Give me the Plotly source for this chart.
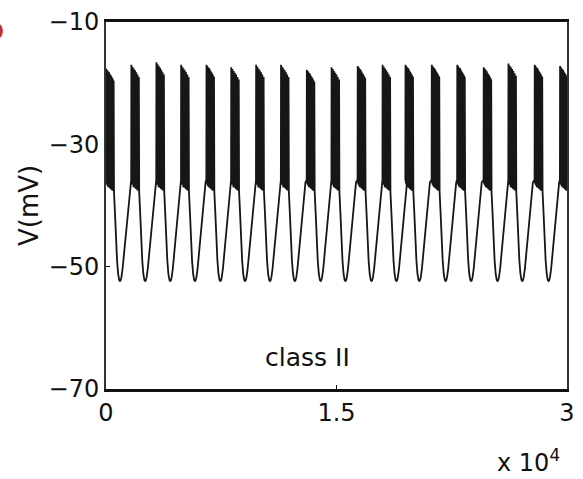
import plotly.graph_objects as go

# ---- data: bursting membrane potential, "class II" cell ----
# onset time of each burst (model time units)
burst_onsets = [0, 1640, 3270, 4880, 6530, 8140, 9760, 11380, 13060,
                14670, 16370, 17990, 19480, 21190, 22850, 24570, 26180,
                27890, 29540]
# highest spike peak of each burst (mV)
burst_tops = [-17.6, -17.0, -16.6, -17.0, -17.0, -17.4, -17.0, -17.0, -17.8,
              -17.4, -17.2, -17.0, -17.0, -17.0, -17.0, -17.4, -16.8, -17.0,
              -17.2]
# spikes inside one burst: times after onset and peak drop from burst top
spike_peak_dt = [10, 50, 90, 130, 170, 210, 250, 290, 330, 372, 414, 456, 498]
spike_peak_drop = [0.0, -0.2, -0.3, -0.5, -0.6, -0.8, -0.9, -1.1, -1.2, -1.4, -1.6, -1.8, -2.0]
spike_trough_dt = [30, 70, 110, 150, 190, 230, 270, 310, 351, 393, 435, 477, 520]
spike_trough_v = [-36.4, -36.6, -36.8, -37.0, -37.0, -37.1, -37.2, -37.3, -37.4,
                  -37.5, -37.6, -37.6, -37.8]
# slow wave between bursts: time after onset and voltage
wave_dt = [580, 650, 720, 790, 860, 930, 1000, 1080, 1160, 1240, 1330, 1420, 1510, 1600]
wave_v = [-41.0, -45.5, -49.0, -51.2, -52.2, -52.4, -51.8, -50.3, -48.2,
          -46.0, -43.2, -40.5, -38.2, -36.2]
burst_start_v = -35.8

t_max = 30000
x_ticks = [0, 15000, 30000]
x_tick_text = ["0", "1.5", "3"]
y_ticks = [-70, -50, -30, -10]

# ---- assemble the trace ----
t, v = [], []
for onset, top in zip(burst_onsets, burst_tops):
    t.append(onset)
    v.append(burst_start_v)
    events = [(dt, top + d) for dt, d in zip(spike_peak_dt, spike_peak_drop)]
    events += list(zip(spike_trough_dt, spike_trough_v))
    events += list(zip(wave_dt, wave_v))
    events.sort()
    for dt, val in events:
        if onset + dt <= t_max:
            t.append(onset + dt)
            v.append(val)

fig = go.Figure()
fig.add_trace(go.Scatter(x=t, y=v, mode="lines",
                         line=dict(color="#161616", width=1.8),
                         hoverinfo="skip", showlegend=False))

font = dict(family="DejaVu Sans", size=24, color="#111111")

fig.update_layout(
    width=583, height=479,
    margin=dict(l=106, r=8, t=14, b=90),
    paper_bgcolor="white", plot_bgcolor="white",
    font=font,
    xaxis=dict(range=[0, t_max], tickvals=x_ticks, ticktext=x_tick_text,
               ticks="inside", ticklen=4, tickcolor="#111111",
               showline=True, linecolor="#111111", linewidth=2.5, mirror=True,
               showgrid=False, zeroline=False, tickfont=font),
    yaxis=dict(range=[-70, -10], tickvals=y_ticks,
               ticks="inside", ticklen=4, tickcolor="#111111",
               showline=True, linecolor="#333333", linewidth=2, mirror=True,
               showgrid=False, zeroline=False, tickfont=font),
    annotations=[
        dict(text="class II", xref="paper", yref="paper", x=0.437, y=0.085,
             xanchor="center", yanchor="middle", showarrow=False,
             font=dict(family="DejaVu Sans", size=25, color="#111111")),
        dict(text="x 10<sup>4</sup>", xref="paper", yref="paper", x=0.917, y=-0.195,
             xanchor="center", yanchor="middle", showarrow=False,
             font=dict(family="DejaVu Sans", size=24, color="#111111")),
        dict(text="V(mV)", xref="paper", yref="paper", x=-0.168, y=0.5,
             xanchor="center", yanchor="middle", textangle=-90, showarrow=False,
             font=dict(family="DejaVu Sans", size=26, color="#111111")),
        dict(text="<b>b</b>", xref="paper", yref="paper", x=-0.2175, y=0.979,
             xanchor="right", yanchor="middle", showarrow=False,
             font=dict(family="DejaVu Sans", size=28, color="#c8301f")),
    ],
)

fig.write_html("out.html")
